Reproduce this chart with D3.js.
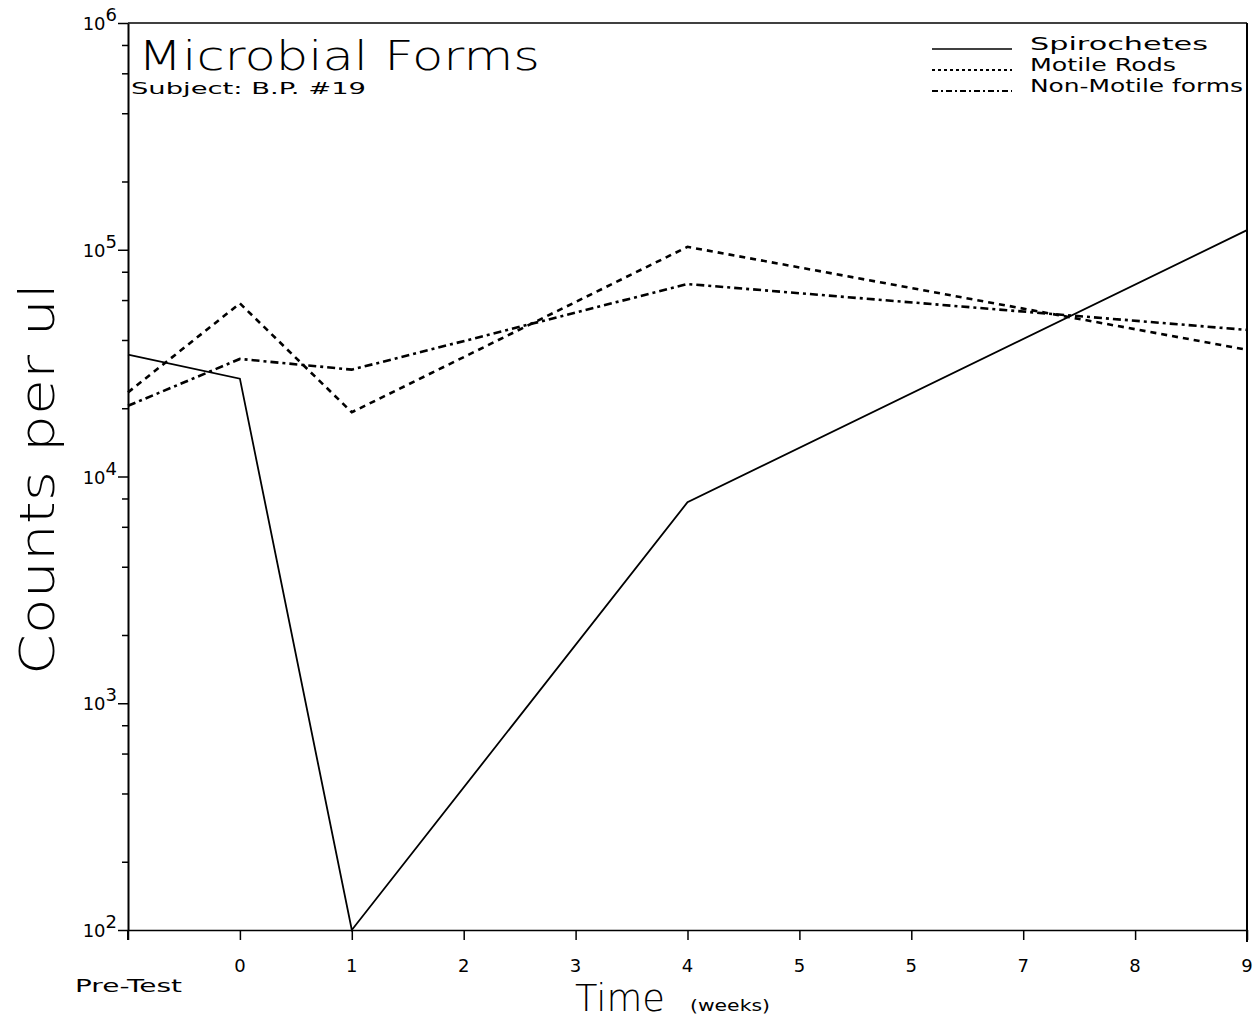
<!DOCTYPE html>
<html>
<head>
<meta charset="utf-8">
<script src="https://cdn.jsdelivr.net/npm/d3@7"></script>
<style>
  html, body { margin: 0; padding: 0; background: #fff; }
  svg { display: block; }
  text { fill: #000; }
</style>
</head>
<body>
<svg id="chart" width="1256" height="1021"></svg>
<script>
// ---- data ----
const weeks = [-1, 0, 1, 4, 9];               // -1 = Pre-Test
const spirochetes = [34500, 27000, 100, 7700, 122000];
const motileRods = [23500, 58000, 19200, 103000, 36200];
const nonMotile = [20500, 33000, 29600, 70600, 44300];
const seriesNames = ["Spirochetes", "Motile Rods", "Non-Motile forms"];
const xTickValues = [0, 1, 2, 3, 4, 5, 6, 7, 8, 9];
const xTickLabels = ["0", "1", "2", "3", "4", "5", "5", "7", "8", "9"];
const yDecades = [100, 1000, 10000, 100000, 1000000];
const yDecadeExps = ["2", "3", "4", "5", "6"];

const svg = d3.select("#chart");
const x = d3.scaleLinear().domain([-1, 9]).range([128, 1247]);
const y = d3.scaleLog().domain([100, 1e6]).range([930, 23]);

const plotFont = "'DejaVu Sans', sans-serif";
const thinFont = "'DejaVu Sans', sans-serif";
const stretch = "spacingAndGlyphs";

// frame: top and right
svg.append("line").attr("x1", x(-1)).attr("x2", x(9)).attr("y1", y(1e6)).attr("y2", y(1e6))
  .attr("stroke", "#000").attr("stroke-width", 1.6);
svg.append("line").attr("x1", x(9)).attr("x2", x(9)).attr("y1", y(1e6)).attr("y2", y(100) + 12)
  .attr("stroke", "#000").attr("stroke-width", 2);

// y axis with minor ticks
const minorVals = [];
for (let e = 2; e < 6; e++) for (const m of [2, 4, 6, 8]) minorVals.push(m * Math.pow(10, e));
const yAxis = d3.axisLeft(y).tickValues(yDecades.concat(minorVals))
  .tickSize(6).tickSizeOuter(0).tickFormat("");
const gy = svg.append("g").attr("transform", `translate(${x(-1)},0)`).call(yAxis);
gy.select(".domain").attr("stroke-width", 2);
gy.selectAll(".tick line").attr("stroke-width", 1.5);
gy.selectAll(".tick").filter(d => yDecades.includes(d)).select("line").attr("x2", -10);

// extend left axis a bit below
svg.append("line").attr("x1", x(-1)).attr("x2", x(-1)).attr("y1", y(100)).attr("y2", y(100) + 10)
  .attr("stroke", "#000").attr("stroke-width", 2);

// y decade labels
yDecades.forEach((v, i) => {
  const t = svg.append("text").attr("x", 117).attr("y", y(v) + 7)
    .attr("text-anchor", "end").attr("font-family", plotFont).attr("font-size", 18);
  t.append("tspan").text("10");
  t.append("tspan").attr("dy", -9).attr("font-size", 18).text(yDecadeExps[i]);
});

// x axis
const xAxis = d3.axisBottom(x).tickValues([-1].concat(xTickValues)).tickSize(10)
  .tickSizeOuter(0).tickFormat("");
const gx = svg.append("g").attr("transform", `translate(0,${y(100)})`).call(xAxis);
gx.select(".domain").attr("stroke-width", 1.6);
gx.selectAll(".tick line").attr("stroke-width", 1.5);

xTickValues.forEach((v, i) => {
  svg.append("text").attr("x", x(v)).attr("y", 972).attr("text-anchor", "middle")
    .attr("font-family", plotFont).attr("font-size", 18).text(xTickLabels[i]);
});
svg.append("text").attr("x", 75).attr("y", 992).attr("font-family", plotFont)
  .attr("font-size", 18).attr("textLength", 107).attr("lengthAdjust", stretch).text("Pre-Test");

// axis titles
svg.append("text").attr("x", 575).attr("y", 1011).attr("font-family", thinFont)
  .attr("font-weight", 200).attr("font-size", 37).attr("textLength", 90)
  .attr("lengthAdjust", stretch).text("Time");
svg.append("text").attr("x", 690).attr("y", 1011).attr("font-family", plotFont)
  .attr("font-size", 15).attr("textLength", 80).attr("lengthAdjust", stretch).text("(weeks)");
svg.append("text").attr("transform", "translate(54,479) rotate(-90)").attr("text-anchor", "middle")
  .attr("font-family", thinFont).attr("font-weight", 200).attr("font-size", 48)
  .attr("textLength", 392).attr("lengthAdjust", stretch).text("Counts per ul");

// title
svg.append("text").attr("x", 138).attr("y", 70).attr("font-family", thinFont)
  .attr("font-weight", 200).attr("font-size", 40).attr("textLength", 402)
  .attr("lengthAdjust", stretch).text("Microbial Forms");
svg.append("text").attr("x", 131).attr("y", 94).attr("font-family", plotFont)
  .attr("font-size", 16).attr("textLength", 235).attr("lengthAdjust", stretch)
  .text("Subject: B.P. #19");

// lines
const dashes = [null, "6,5", "8,4,3,4"];
const allSeries = [spirochetes, motileRods, nonMotile];
const line = d3.line().x(d => x(d[0])).y(d => y(d[1]));
allSeries.forEach((vals, i) => {
  svg.append("path").datum(weeks.map((w, j) => [w, vals[j]]))
    .attr("d", line).attr("fill", "none").attr("stroke", "#000")
    .attr("stroke-width", i === 0 ? 1.8 : 2.6)
    .attr("stroke-dasharray", dashes[i]);
});

// legend
const legendLens = [178, 146, 213];
seriesNames.forEach((name, i) => {
  const ly = 49 + i * 21;
  svg.append("line").attr("x1", 932).attr("x2", 1012).attr("y1", ly).attr("y2", ly)
    .attr("stroke", "#000").attr("stroke-width", i === 0 ? 1.5 : 2)
    .attr("stroke-dasharray", i === 0 ? null : (i === 1 ? "3,3" : "6,3,2,3"));
  svg.append("text").attr("x", 1030).attr("y", ly + 1).attr("font-family", plotFont)
    .attr("font-size", 18).attr("textLength", legendLens[i]).attr("lengthAdjust", stretch)
    .text(name);
});
</script>
</body>
</html>
